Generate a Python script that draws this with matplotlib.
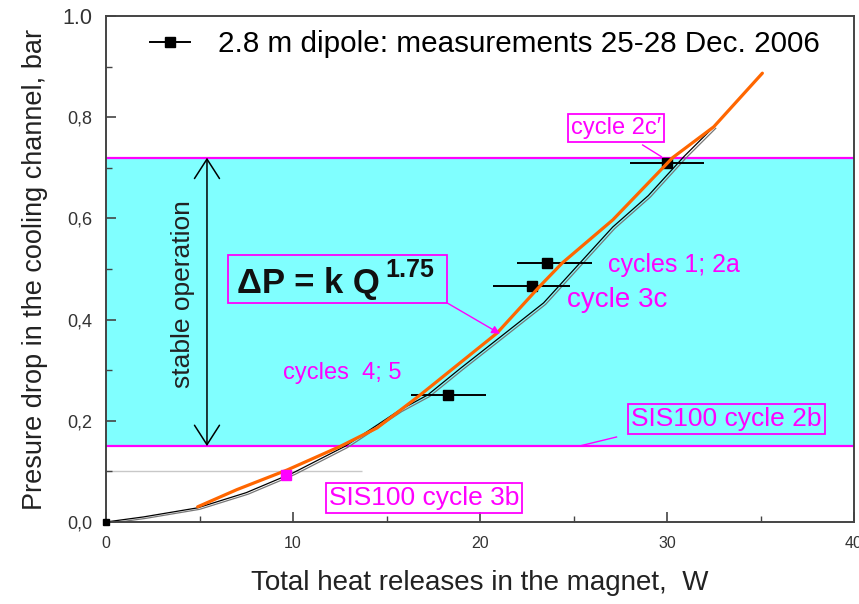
import matplotlib
matplotlib.use("Agg")
import matplotlib.pyplot as plt
from matplotlib.patches import Rectangle
from matplotlib.lines import Line2D
import matplotlib.transforms as mtransforms

plt.rcParams['font.family'] = ['Liberation Sans', 'DejaVu Sans']

# ---------------- data ----------------
# measurements (2.8 m dipole)
meas_x = [18.3, 22.8, 23.6, 30.0]
meas_y = [0.251, 0.466, 0.512, 0.709]
meas_xerr_lo = [2.0, 2.1, 1.6, 2.0]
meas_xerr_hi = [2.0, 2.0, 2.4, 2.0]

# thin black measured curve
black_x = [0, 2.0, 4.9, 7.5, 10.0, 12.8, 15.7, 17.2, 19.0, 21.1, 23.4, 25.0, 27.1, 29.0, 30.9, 32.5]
black_y = [0, 0.010, 0.028, 0.058, 0.097, 0.150, 0.221, 0.251, 0.305, 0.366, 0.433, 0.498, 0.583, 0.645, 0.722, 0.781]

# orange fit dP = k Q^1.75
fit_x = [4.9, 7.0, 9.7, 12.5, 14.5, 16.8, 20.9, 23.2, 24.4, 27.1, 30.3, 32.5, 35.1]
fit_y = [0.030, 0.064, 0.103, 0.149, 0.186, 0.251, 0.373, 0.466, 0.512, 0.597, 0.720, 0.781, 0.887]

# SIS100 cycle 3b point
sis3b_x = [9.6]
sis3b_y = [0.093]

# stable operation limits
stable_lo = 0.15
stable_hi = 0.72
sis3b_level = 0.10
sis3b_level_xmax = 13.7

x_ticks = [0, 10, 20, 30, 40]
x_ticklabels = ["0", "10", "20", "30", "40"]
y_ticks = [0.0, 0.2, 0.4, 0.6, 0.8, 1.0]
y_ticklabels = ["0,0", "0,2", "0,4", "0,6", "0,8", "1.0"]

# ---------------- figure ----------------
fig = plt.figure(figsize=(8.59, 6.04), dpi=100)
ax = fig.add_axes([106/859, 1-522/604, (854-106)/859, (522-16)/604])
ax.set_xlim(0, 40)
ax.set_ylim(0, 1.0)

MAG = '#ff00ff'
ax.axhspan(stable_lo, stable_hi, color='#80ffff', zorder=0, lw=0)
ax.axhline(stable_lo, color=MAG, lw=1.6, zorder=1)
ax.axhline(stable_hi, color=MAG, lw=1.6, zorder=1)
ax.hlines(sis3b_level, 0, sis3b_level_xmax, color='#c8c8c8', lw=1.0, zorder=1)

# black thin curve + gray shadow
off = mtransforms.offset_copy(ax.transData, fig=fig, x=2, y=-1.5, units='dots')
ax.plot(black_x, black_y, color='#777777', lw=0.9, transform=off, zorder=2)
ax.plot(black_x, black_y, color='black', lw=0.9, zorder=2)
ax.plot(black_x[:1], black_y[:1], 's', color='black', ms=4, zorder=3, clip_on=False)

# orange fit
ax.plot(fit_x, fit_y, color='#ff6600', lw=2.3, zorder=4, solid_capstyle='round')

# measurements
ax.errorbar(meas_x, meas_y, xerr=[meas_xerr_lo, meas_xerr_hi], fmt='s', color='black',
            ms=7, elinewidth=1.4, capsize=0, zorder=3)

ax.plot(sis3b_x, sis3b_y, 's', color=MAG, ms=7, zorder=5)

leg_handle = Line2D([], [], color='black', lw=1.4, marker='s', ms=7)
ax.legend([leg_handle], ['2.8 m dipole: measurements 25-28 Dec. 2006'],
          loc='upper left', bbox_to_anchor=(0.043, 0.995), frameon=False,
          fontsize=21.3, handlelength=1.35, handletextpad=0.95, borderaxespad=0)

# stable operation arrow & text
ax.annotate('', xy=(5.4, stable_lo), xytext=(5.4, stable_hi),
            arrowprops=dict(arrowstyle='<->,head_length=0.7,head_width=0.45',
                            color='black', lw=1.1, mutation_scale=20,
                            shrinkA=0, shrinkB=0), zorder=6)
ax.text(4.12, 0.45, 'stable operation', rotation=90, ha='center', va='center',
        fontsize=19, color='#222222')

# dP formula box
ax.add_patch(Rectangle((6.52, 0.433), 11.71, 0.095, fill=False, ec=MAG, lw=1.3, zorder=6))
ax.text(7.0, 0.453, 'ΔP = k Q', fontsize=25, fontweight='bold', color='#111111',
        ha='left', va='baseline', zorder=7)
ax.text(14.95, 0.484, '1.75', fontsize=18, fontweight='bold', color='#111111',
        ha='left', va='baseline', zorder=7)
ax.annotate('', xy=(21.07, 0.372), xytext=(18.24, 0.433),
            arrowprops=dict(arrowstyle='-|>,head_length=0.4,head_width=0.2',
                            color=MAG, lw=1.0, mutation_scale=12, shrinkA=0, shrinkB=0),
            zorder=7)

# labels in magenta
ax.text(26.84, 0.508, 'cycles 1; 2a', fontsize=18, color=MAG, ha='left', va='center', zorder=7)
ax.text(24.65, 0.439, 'cycle 3c', fontsize=20, color=MAG, ha='left', va='center', zorder=7)
ax.text(9.47, 0.294, 'cycles  4; 5', fontsize=17, color=MAG, ha='left', va='center', zorder=7)

bbox_kw = dict(boxstyle='square,pad=0.12', fc='none', ec=MAG, lw=1.3)
ax.text(27.27, 0.779, 'cycle 2c\u2032', fontsize=17, color=MAG, ha='center', va='center',
        bbox=dict(boxstyle='square,pad=0.12', fc='white', ec=MAG, lw=1.3), zorder=7)
ax.plot([28.7, 29.7], [0.745, 0.722], color=MAG, lw=1.0, zorder=7)

ax.text(33.16, 0.2035, 'SIS100 cycle 2b', fontsize=19, color=MAG, ha='center', va='center',
        bbox=bbox_kw, zorder=7)
ax.plot([27.3, 25.3], [0.168, 0.150], color=MAG, lw=1.0, zorder=7)

ax.text(17.0, 0.047, 'SIS100 cycle 3b', fontsize=19, color=MAG, ha='center', va='center',
        bbox=bbox_kw, zorder=7)

# axes styling
for s in ax.spines.values():
    s.set_color('#444444')
    s.set_linewidth(1.4)

ax.set_xticks(x_ticks)
ax.set_xticklabels(x_ticklabels)
ax.set_yticks(y_ticks)
ax.set_yticklabels(y_ticklabels)
ax.set_xticks([5, 15, 25, 35], minor=True)
ax.set_yticks([0.1, 0.3, 0.5, 0.7, 0.9], minor=True)
ax.tick_params(axis='both', which='major', direction='in', length=7, width=1.2,
               colors='#444444', labelcolor='#333333', pad=10)
ax.tick_params(axis='x', which='major', labelsize=11.5)
ax.tick_params(axis='y', which='major', labelsize=13)
ax.tick_params(axis='both', which='minor', direction='in', length=4, width=1.0, colors='#444444')
ax.get_yticklabels()[-1].set_fontsize(15.5)

ax.set_xlabel('Total heat releases in the magnet,  W', fontsize=20, color='#222222', labelpad=14)
ax.set_ylabel('Presure drop in the cooling channel, bar', fontsize=19.5, color='#222222', labelpad=10)

fig.savefig('out.png', dpi=100)
